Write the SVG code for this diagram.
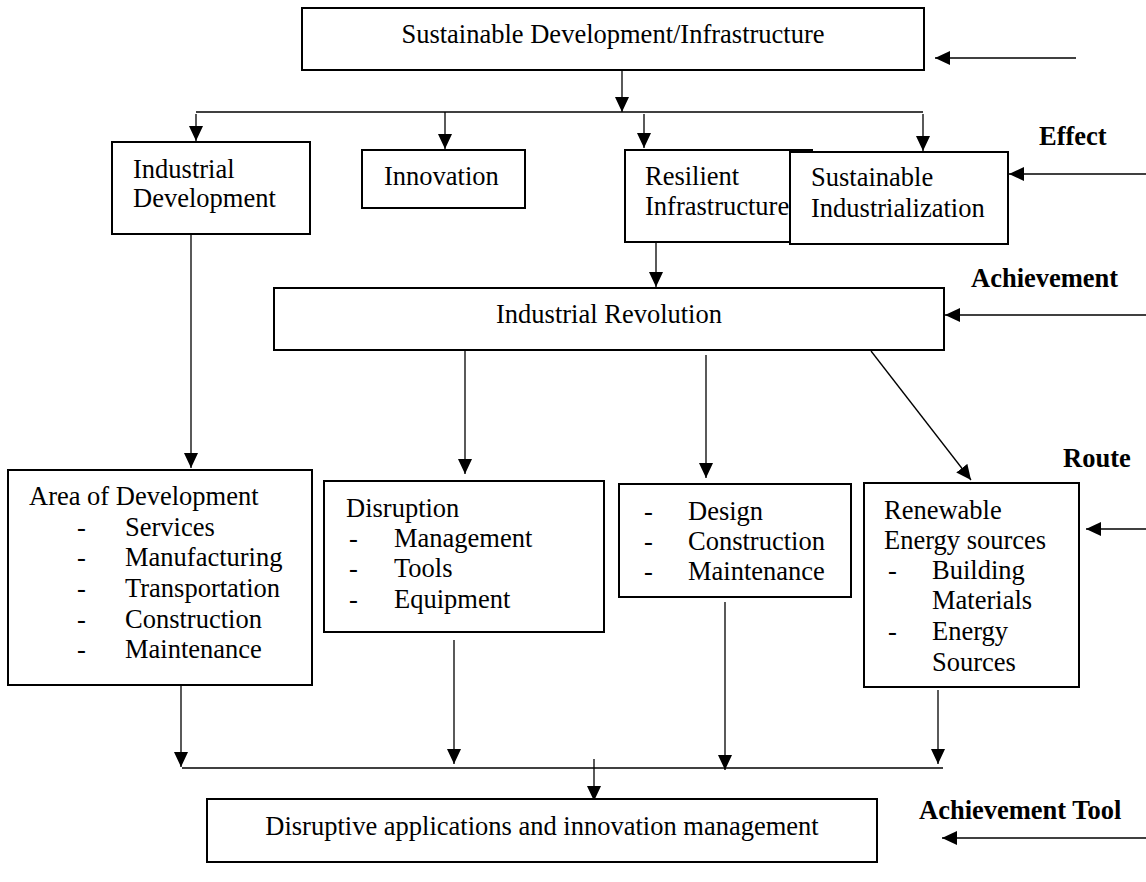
<svg xmlns="http://www.w3.org/2000/svg" width="1146" height="882" viewBox="0 0 1146 882">
<style>
.box{fill:#fff;stroke:#000;stroke-width:2}
.t{font-family:"Liberation Serif","Times New Roman",serif;font-size:26.5px;fill:#000}
.b{font-family:"Liberation Serif","Times New Roman",serif;font-size:26.5px;font-weight:bold;fill:#000}
.c{fill:none;stroke:#000;stroke-width:1.3}
</style>
<defs>
<marker id="ah" markerUnits="userSpaceOnUse" markerWidth="16" markerHeight="15" refX="15" refY="7" orient="auto">
<path d="M0,0 L15,7 L0,14 z" fill="#000"/>
</marker>
</defs>
<rect width="1146" height="882" fill="#fff"/>

<g id="connectors">
<line class="c" x1="622" y1="71" x2="622" y2="112" marker-end="url(#ah)"/>
<line class="c" x1="196" y1="112" x2="923" y2="112"/>
<line class="c" x1="196" y1="114" x2="196" y2="141" marker-end="url(#ah)"/>
<line class="c" x1="445" y1="112" x2="445" y2="149" marker-end="url(#ah)"/>
<line class="c" x1="644" y1="114" x2="644" y2="148" marker-end="url(#ah)"/>
<line class="c" x1="923" y1="114" x2="923" y2="151" marker-end="url(#ah)"/>
<line class="c" x1="656" y1="243" x2="656" y2="287" marker-end="url(#ah)"/>
<line class="c" x1="191" y1="235" x2="191" y2="468" marker-end="url(#ah)"/>
<line class="c" x1="465" y1="351" x2="465" y2="474" marker-end="url(#ah)"/>
<line class="c" x1="706" y1="355" x2="706" y2="478" marker-end="url(#ah)"/>
<line class="c" x1="871" y1="351" x2="971" y2="480" marker-end="url(#ah)"/>
<line class="c" x1="181" y1="686" x2="181" y2="767" marker-end="url(#ah)"/>
<line class="c" x1="454" y1="640" x2="454" y2="764" marker-end="url(#ah)"/>
<line class="c" x1="725" y1="602" x2="725" y2="770" marker-end="url(#ah)"/>
<line class="c" x1="938" y1="690" x2="938" y2="764" marker-end="url(#ah)"/>
<line class="c" x1="182" y1="768" x2="943" y2="768"/>
<line class="c" x1="594" y1="759" x2="594" y2="801" marker-end="url(#ah)"/>
<line class="c" x1="1076" y1="58" x2="935" y2="58" marker-end="url(#ah)"/>
<line class="c" x1="1146" y1="174" x2="1009" y2="174" marker-end="url(#ah)"/>
<line class="c" x1="1146" y1="315" x2="945" y2="315" marker-end="url(#ah)"/>
<line class="c" x1="1146" y1="529" x2="1086" y2="529" marker-end="url(#ah)"/>
<line class="c" x1="1146" y1="838" x2="942" y2="838" marker-end="url(#ah)"/>
</g>

<g id="sustainable-development">
<rect class="box" x="302" y="8" width="622" height="62"/>
<text class="t" x="613" y="43" text-anchor="middle">Sustainable Development/Infrastructure</text>
</g>

<g id="industrial-development">
<rect class="box" x="112" y="142" width="198" height="92"/>
<text class="t"><tspan x="133" y="178">Industrial</tspan><tspan x="133" y="207">Development</tspan></text>
</g>

<g id="innovation">
<rect class="box" x="362" y="150" width="163" height="58"/>
<text class="t" x="384" y="185">Innovation</text>
</g>

<g id="resilient-infrastructure">
<rect class="box" x="625" y="150" width="187" height="92"/>
<text class="t"><tspan x="645" y="185">Resilient</tspan><tspan x="645" y="215">Infrastructure</tspan></text>
</g>

<g id="sustainable-industrialization">
<rect class="box" x="790" y="152" width="218" height="92"/>
<text class="t"><tspan x="811" y="186">Sustainable</tspan><tspan x="811" y="217">Industrialization</tspan></text>
</g>

<g id="industrial-revolution">
<rect class="box" x="274" y="288" width="670" height="62"/>
<text class="t" x="609" y="323" text-anchor="middle">Industrial Revolution</text>
</g>

<g id="area-of-development">
<rect class="box" x="8" y="470" width="304" height="215"/>
<text class="t"><tspan x="29" y="505">Area of Development</tspan></text>
<text class="t"><tspan x="77" y="536">-</tspan><tspan x="125" y="536">Services</tspan></text>
<text class="t"><tspan x="77" y="566">-</tspan><tspan x="125" y="566">Manufacturing</tspan></text>
<text class="t"><tspan x="77" y="597">-</tspan><tspan x="125" y="597">Transportation</tspan></text>
<text class="t"><tspan x="77" y="628">-</tspan><tspan x="125" y="628">Construction</tspan></text>
<text class="t"><tspan x="77" y="658">-</tspan><tspan x="125" y="658">Maintenance</tspan></text>
</g>

<g id="disruption">
<rect class="box" x="324" y="481" width="280" height="151"/>
<text class="t" x="346" y="517">Disruption</text>
<text class="t"><tspan x="349" y="547">-</tspan><tspan x="394" y="547">Management</tspan></text>
<text class="t"><tspan x="349" y="577">-</tspan><tspan x="394" y="577">Tools</tspan></text>
<text class="t"><tspan x="349" y="608">-</tspan><tspan x="394" y="608">Equipment</tspan></text>
</g>

<g id="design">
<rect class="box" x="619" y="484" width="232" height="113"/>
<text class="t"><tspan x="644" y="520">-</tspan><tspan x="688" y="520">Design</tspan></text>
<text class="t"><tspan x="644" y="550">-</tspan><tspan x="688" y="550">Construction</tspan></text>
<text class="t"><tspan x="644" y="580">-</tspan><tspan x="688" y="580">Maintenance</tspan></text>
</g>

<g id="renewable-energy">
<rect class="box" x="864" y="483" width="215" height="204"/>
<text class="t"><tspan x="884" y="519">Renewable</tspan><tspan x="884" y="549">Energy sources</tspan></text>
<text class="t"><tspan x="888" y="579">-</tspan><tspan x="932" y="579">Building</tspan><tspan x="932" y="609">Materials</tspan></text>
<text class="t"><tspan x="888" y="640">-</tspan><tspan x="932" y="640">Energy</tspan><tspan x="932" y="671">Sources</tspan></text>
</g>

<g id="disruptive-applications">
<rect class="box" x="207" y="799" width="670" height="63"/>
<text class="t" x="542" y="835" text-anchor="middle">Disruptive applications and innovation management</text>
</g>

<g id="labels">
<text class="b" x="1039" y="145">Effect</text>
<text class="b" x="971" y="287">Achievement</text>
<text class="b" x="1063" y="467">Route</text>
<text class="b" x="919" y="819">Achievement Tool</text>
</g>
</svg>
